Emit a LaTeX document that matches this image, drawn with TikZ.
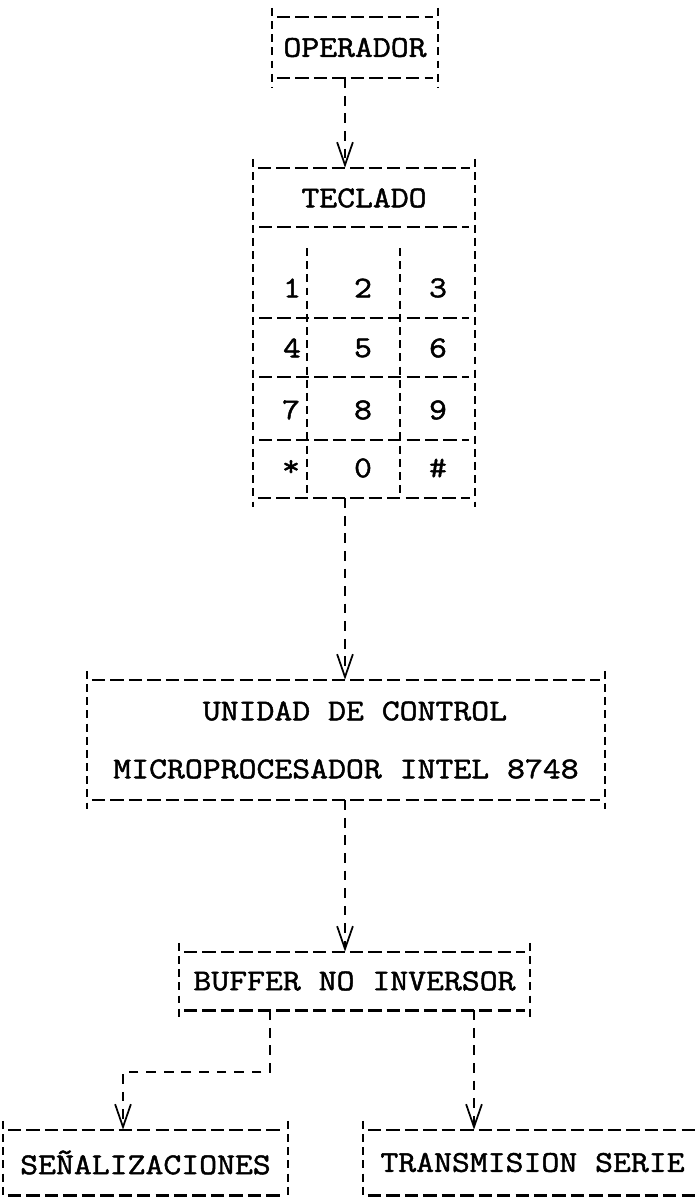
\documentclass[tikz,border=0pt]{standalone}
\usepackage{fontspec}
\newfontfamily\maquina[FakeStretch=1.15, FakeBold=1.6]{lmmono12-regular.otf}
\usetikzlibrary{arrows.meta}

% marco de maquina de escribir alrededor de un nodo
\newcommand{\marco}[1]{%
  \draw[raya]  ([xshift=3pt]#1.north west) -- ([xshift=-3pt]#1.north east);
  \draw[raya]  ([xshift=3pt]#1.south west) -- ([xshift=-3pt]#1.south east);
  \draw[borde] ([yshift=5pt]#1.north west) -- ([yshift=-5pt]#1.south west);
  \draw[borde] ([yshift=5pt]#1.north east) -- ([yshift=-5pt]#1.south east);
}

\begin{document}
\begin{tikzpicture}[
    x=0.02cm, y=-0.02cm,
    font=\maquina\fontsize{17.2}{33}\selectfont,
    raya/.style={line width=1.3pt, dash pattern=on 7.6pt off 2.9pt},
    borde/.style={line width=1.3pt, dash pattern=on 4.5pt off 3pt},
    flecha/.style={line width=1.3pt, dash pattern=on 5.5pt off 4.5pt,
        -{Straight Barb[length=13pt, width=9pt, line width=1pt]}},
    caja/.style={rectangle, inner sep=0pt, align=center},
]
    \useasboundingbox (0,0) rectangle (694,1197);

    % Bloques
    \node[caja, minimum width=3.32cm, minimum height=1.22cm] (oper) at (355,47.5) {OPERADOR};
    \node[caja, minimum width=4.44cm, minimum height=6.6cm]  (tecl) at (364,333) {};
    \node[caja, minimum width=10.36cm, minimum height=2.4cm, align=left] (unid) at (346,740)
        {\phantom{MICRO}UNIDAD DE CONTROL\\MICROPROCESADOR INTEL 8748};
    \node[caja, minimum width=7.02cm, minimum height=1.16cm] (buff) at (354.5,981) {BUFFER NO INVERSOR};
    \node[caja, minimum width=5.7cm, minimum height=1.3cm]   (senal) at (145.5,1162.5) {SEÑALIZACIONES};
    \node[caja, minimum width=6.78cm, minimum height=1.3cm]  (trans) at (532.5,1162.5) {TRANSMISION SERIE};

    \marco{oper}
    \marco{tecl}
    \marco{unid}
    \marco{buff}
    \marco{senal}
    \marco{trans}

    % Teclado
    \node (titulo) at (364,198) {TECLADO};
    \draw[raya] (259,227) -- (469,227);
    \draw[raya] (259,318) -- (469,318);
    \draw[raya] (259,377) -- (469,377);
    \draw[raya] (259,440) -- (469,440);
    \draw[borde] (307,248) -- (307,498);
    \draw[borde] (400,248) -- (400,498);

    \node (k1) at (292,288) {1};
    \node (k2) at (363,288) {2};
    \node (k3) at (438,288) {3};
    \node (k4) at (292,348) {4};
    \node (k5) at (363,348) {5};
    \node (k6) at (438,348) {6};
    \node (k7) at (291,410) {7};
    \node (k8) at (363,410) {8};
    \node (k9) at (438,410) {9};
    \node (kast) at (291,468) {\raisebox{-3pt}{*}};
    \node (k0) at (363,468) {0};
    \node (kgat) at (438,468) {\#};

    % Conexiones
    \coordinate (eje) at (345,0);
    \draw[flecha] (eje |- oper.south) -- (eje |- tecl.north);
    \draw[flecha] (eje |- tecl.south) -- (eje |- unid.north);
    \draw[flecha] (eje |- unid.south) -- (eje |- buff.north);

    % Salidas del buffer
    \coordinate (izq) at (270,1072);
    \coordinate (codo) at (123,1072);
    \coordinate (der) at (474,0);
    \draw[flecha] (izq |- buff.south) -- (izq) -- (codo) -- (codo |- senal.north);
    \draw[flecha] (der |- buff.south) -- (der |- trans.north);

\end{tikzpicture}
\end{document}
